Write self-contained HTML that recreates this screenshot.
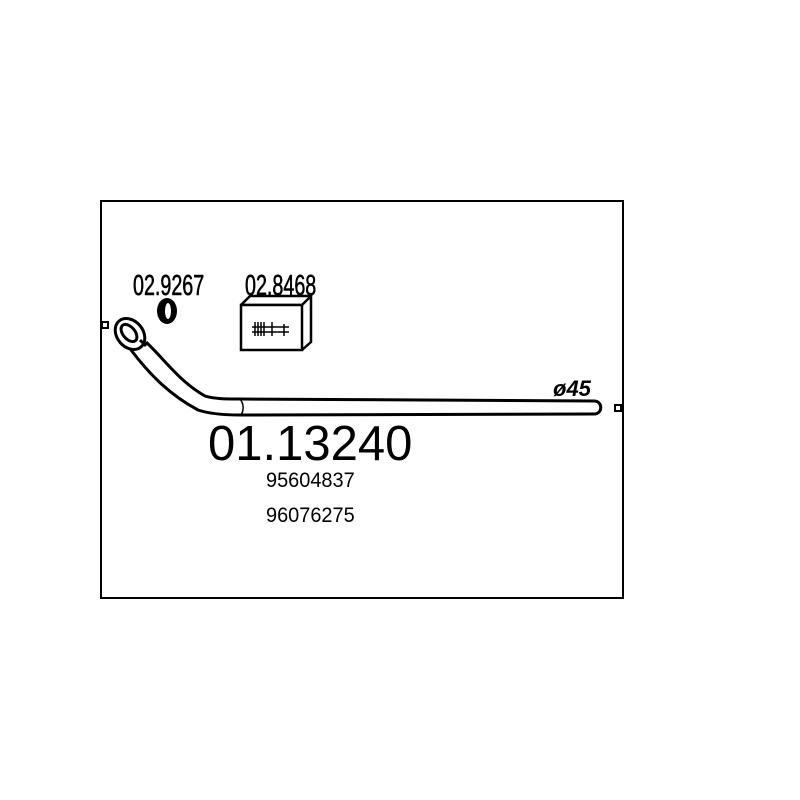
<!DOCTYPE html>
<html><head><style>
html,body{margin:0;padding:0;background:#fff;}
svg{display:block;}
text{font-family:"Liberation Sans",sans-serif;fill:#000;}
</style></head><body>
<svg width="800" height="800" viewBox="0 0 800 800">
<rect x="101" y="201" width="522" height="397" fill="none" stroke="#000" stroke-width="2"/>
<rect x="102" y="322" width="6" height="6" fill="#fff" stroke="#000" stroke-width="2"/>
<rect x="615" y="405" width="6" height="6" fill="#fff" stroke="#000" stroke-width="2"/>
<!-- pipe -->
<path d="M146,342 C165,360 180,382 205,396 C215,399 225,399 240,399 L594,401" fill="none" stroke="#000" stroke-width="3"/>
<path d="M131,350 C150,375 170,395 198,410 C210,414 225,415 240,415 L594,414" fill="none" stroke="#000" stroke-width="3"/>
<path d="M594,401 C603,401 603,414 594,414" fill="none" stroke="#000" stroke-width="3"/>
<path d="M240,399 C244,404 244,410 241,415" fill="none" stroke="#000" stroke-width="1.5"/>
<!-- flange -->
<ellipse cx="130" cy="334" rx="13" ry="17" transform="rotate(-40 130 334)" fill="#fff" stroke="#000" stroke-width="3"/>
<ellipse cx="129" cy="333" rx="6" ry="10" transform="rotate(-40 129 333)" fill="#fff" stroke="#000" stroke-width="3"/>
<path d="M140,340 l6,6" stroke="#000" stroke-width="3"/>
<!-- gasket -->
<ellipse cx="167" cy="311" rx="10" ry="13" fill="#000"/>
<ellipse cx="168" cy="311" rx="3" ry="8" fill="#fff"/>
<!-- box -->
<path d="M241,305 L250,296 L311,296 L311,342 L302,350" fill="#fff" stroke="#000" stroke-width="2.5"/>
<path d="M241,305 L302,305 L311,296" fill="none" stroke="#000" stroke-width="2.5"/>
<rect x="241" y="305" width="61" height="45" fill="#fff" stroke="#000" stroke-width="2.5"/>
<path d="M252,327 h37 M252,332 h37 M255,322 v14 M258,322 v14 M261,322 v14 M264,322 v14 M272,322 v14 M284,324 v12" stroke="#000" stroke-width="1.5"/>
<text x="133" y="295" font-size="29" stroke="#000" stroke-width="0.6" transform="scale(0.68 1)" transform-origin="133 295">02.9267</text>
<text x="245" y="295" font-size="29" stroke="#000" stroke-width="0.6" transform="scale(0.68 1)" transform-origin="245 295">02.8468</text>
<text x="208" y="460" font-size="49">01.13240</text>
<text x="266" y="487" font-size="21" transform="scale(0.95 1)" transform-origin="266 487">95604837</text>
<text x="266" y="522" font-size="21" transform="scale(0.95 1)" transform-origin="266 522">96076275</text>
<text x="553" y="396" font-size="22" font-weight="bold" font-style="italic">ø45</text>
</svg>
</body></html>
